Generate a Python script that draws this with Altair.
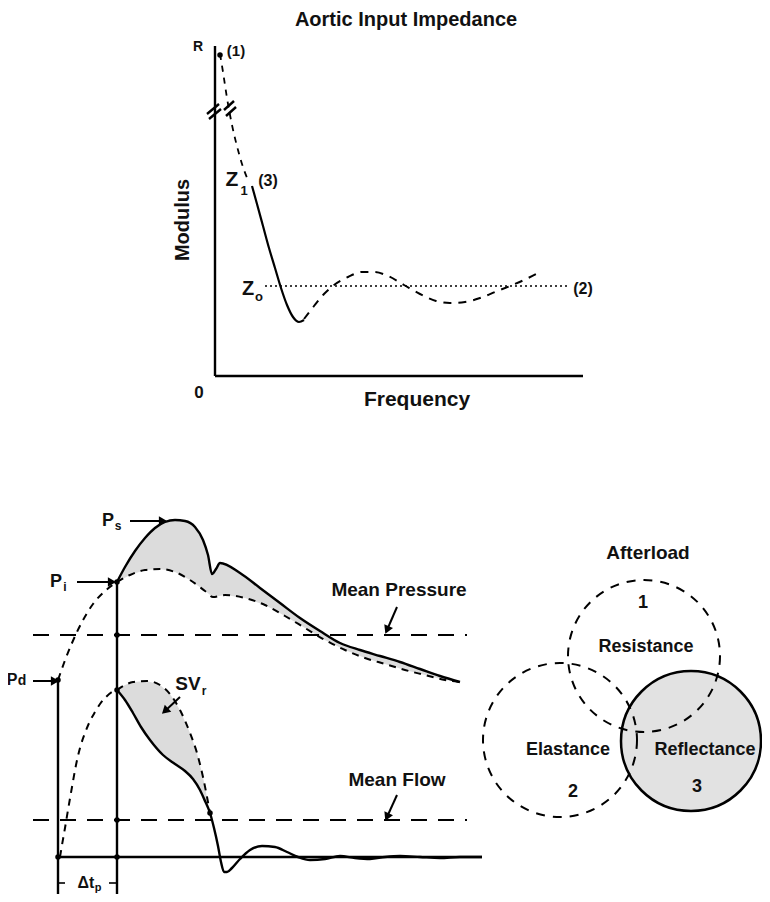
import math
import altair as alt
import pandas as pd

# ---------------- data (reference pixel space) ----------------
# Aortic input impedance
imp_dash1_x = [220, 223, 227, 232, 238, 244, 248]
imp_dash1_y = [54, 72, 98, 125, 150, 170, 180]
imp_solid_x = [252, 257, 263, 269, 275, 281, 287, 293, 299, 304]
imp_solid_y = [186, 204, 226, 248, 268, 288, 305, 317, 322, 320]
imp_dash2_x = [304, 314, 324, 334, 348, 362, 374, 388, 404, 420, 436, 450, 465, 480, 495, 510, 524, 538]
imp_dash2_y = [319, 306, 294, 285, 277, 272, 272, 276, 285, 294, 301, 303, 302, 298, 292, 286, 280, 273]
zo_x = [265, 567]
zo_y = [286, 286]

# Pressure waveforms
p_rise_x = [58, 64, 72, 82, 93, 105, 117]
p_rise_y = [680, 663, 643, 622, 604, 591, 582]
p_solid_x = [117, 125, 135, 145, 155, 165, 175, 185, 195, 203, 208, 212, 216, 220, 240, 260, 280, 300, 320, 340, 360, 380, 400, 420, 440, 460]
p_solid_y = [582, 567, 551, 538, 528, 522, 520, 521, 527, 540, 555, 574, 569, 563, 573, 588, 603, 618, 631, 643, 650, 656, 662, 669, 676, 682]
p_dash_x = [117, 130, 145, 160, 175, 190, 205, 213, 225, 245, 265, 285, 305, 325, 345, 365, 385, 405, 425, 445, 460]
p_dash_y = [582, 575, 570, 569, 572, 580, 591, 597, 595, 598, 605, 616, 628, 640, 650, 658, 664, 670, 675, 680, 682]

# Flow waveforms
f_rise_x = [60, 62, 65, 68, 72, 76, 80, 85, 90, 95, 100, 106, 112, 117]
f_rise_y = [857, 845, 828, 810, 787, 765, 748, 733, 721, 712, 704, 697, 692, 690]
f_solid_x = [117, 125, 133, 141, 150, 163, 175, 185, 193, 200, 205, 210, 214, 218, 221, 224, 227, 232, 240, 250, 262, 275, 287, 298, 310, 325, 340, 355, 370, 385, 400, 420, 440, 460, 482]
f_solid_y = [690, 700, 713, 727, 740, 755, 764, 771, 779, 790, 801, 813, 828, 846, 862, 872, 872, 868, 859, 850, 846, 847, 852, 857, 860, 859, 856, 858, 859, 857, 856, 857, 858, 857, 857]
svr_x = [117, 125, 133, 147, 160, 170, 180, 190, 197, 203, 210]
svr_y = [690, 685, 682, 681, 685, 694, 710, 733, 753, 777, 813]

# straight solid segments: (x1, y1, x2, y2)
seg_solid = [
    (215, 46, 215, 376), (215, 376, 583, 376),           # impedance axes
    (207, 114, 219, 104), (209, 119, 221, 109),           # axis break
    (224, 110, 234, 101), (226, 116, 236, 107),           # curve break
    (58, 857, 482, 857),                                  # flow zero line
    (58, 680, 58, 894), (117, 582, 117, 894),             # timing verticals
]
seg_thin = [(58, 883, 65, 883), (109, 883, 117, 883)]     # delta t bracket
seg_dashed = [(33, 635, 467, 635), (33, 820, 467, 820)]   # mean pressure / flow

# arrows: (x_start, y_start, x_end, y_end)
arrows = [
    (130, 521, 163, 521), (77, 582, 112, 582), (33, 681, 55, 681),
    (397, 607, 387, 630), (397, 795, 387, 817), (180, 697, 165, 711),
]

# junction dots
dot_x = [58, 117, 117, 117, 117, 117, 58, 210, 220]
dot_y = [680, 582, 690, 635, 820, 857, 857, 813, 55]

# Venn circles (centre x, centre y, radius)
circ_x = [644, 560, 691]
circ_y = [656, 740, 741]
circ_r = [76, 77, 70]

# labels
lab_text = ["Aortic Input Impedance", "R", "(1)", "Z", "1", "(3)", "Modulus", "Z", "o", "(2)", "0", "Frequency",
            "P", "s", "P", "i", "P", "d", "Mean Pressure", "SV", "r", "Mean Flow", "Δt", "p",
            "Afterload", "1", "Resistance", "Elastance", "2", "Reflectance", "3"]
lab_x = [406, 198, 236, 232, 244, 268, 183, 248, 259, 583, 199, 417,
         108, 118, 56, 65, 12, 22, 399, 188, 204, 397, 86, 98,
         648, 643, 646, 568, 573, 705, 697]
lab_y = [20, 47, 51, 180, 191, 181, 220, 289, 297, 289, 393, 400,
         521, 526, 582, 587, 680, 681, 590, 684, 691, 780, 883, 888,
         553, 603, 647, 750, 792, 750, 787]
lab_size = [20, 14, 15, 21, 13, 16, 20, 20, 13, 16, 17, 21,
            18, 12, 18, 12, 16, 14, 19, 19, 12, 19, 16, 11,
            19, 18, 18, 18, 18, 18, 18]
lab_angle = [0] * len(lab_text)
lab_angle[6] = 270

# ---------------- chart ----------------
W, H = 754, 886
xsc = alt.Scale(domain=[8, 8 + W], nice=False, zero=False)
ysc = alt.Scale(domain=[8, 8 + H], nice=False, zero=False, reverse=True)
X = lambda f="x": alt.X(f"{f}:Q", scale=xsc, axis=None)
Y = lambda f="y": alt.Y(f"{f}:Q", scale=ysc, axis=None)


def df(xs, ys):
    return pd.DataFrame({"x": xs, "y": ys, "o": list(range(len(xs)))})


def curve(xs, ys, dash=None, width=2.2, interp="monotone"):
    kw = dict(color="black", strokeWidth=width, interpolate=interp)
    if dash:
        kw["strokeDash"] = dash
    return alt.Chart(df(xs, ys)).mark_line(**kw).encode(x=X(), y=Y(), order="o:Q")


def polygon(xs, ys, color):
    return alt.Chart(df(xs, ys)).mark_line(
        fill=color, stroke="transparent", strokeWidth=0, interpolate="linear"
    ).encode(x=X(), y=Y(), order="o:Q")


def segs(lst, dash=None, width=2.2):
    d = pd.DataFrame(lst, columns=["x", "y", "x2", "y2"])
    kw = dict(color="black", strokeWidth=width)
    if dash:
        kw["strokeDash"] = dash
    return alt.Chart(d).mark_rule(**kw).encode(x=X(), y=Y(), x2="x2:Q", y2="y2:Q")


def circle(i, **kw):
    d = pd.DataFrame({"x": [circ_x[i]], "y": [circ_y[i]]})
    return alt.Chart(d).mark_point(shape="circle", size=(2 * circ_r[i]) ** 2, opacity=1, **kw).encode(x=X(), y=Y())


layers = []
# stippled areas
layers.append(polygon(p_solid_x + p_dash_x[::-1], p_solid_y + p_dash_y[::-1], "#dcdcdc"))
fs_n = f_solid_x.index(210) + 1
layers.append(polygon(f_solid_x[:fs_n] + svr_x[::-1], f_solid_y[:fs_n] + svr_y[::-1], "#dcdcdc"))

# circles
layers.append(circle(2, filled=True, color="#e2e2e2"))
layers.append(circle(0, filled=False, color="black", strokeWidth=2, strokeDash=[9, 8]))
layers.append(circle(1, filled=False, color="black", strokeWidth=2, strokeDash=[9, 8]))
layers.append(circle(2, filled=False, color="black", strokeWidth=2.5))

# impedance curves
layers.append(curve(imp_dash1_x, imp_dash1_y, dash=[6, 6], width=1.8))
layers.append(curve(imp_solid_x, imp_solid_y, width=2.2))
layers.append(curve(imp_dash2_x, imp_dash2_y, dash=[8, 7], width=2))
layers.append(curve(zo_x, zo_y, dash=[2, 3], width=1.6, interp="linear"))

# pressure and flow curves
layers.append(curve(p_rise_x, p_rise_y, dash=[7, 6], width=2))
layers.append(curve(p_solid_x, p_solid_y, width=2.4))
layers.append(curve(p_dash_x, p_dash_y, dash=[7, 6], width=2))
layers.append(curve(f_rise_x, f_rise_y, dash=[7, 6], width=2))
layers.append(curve(f_solid_x, f_solid_y, width=2.4))
layers.append(curve(svr_x, svr_y, dash=[7, 6], width=2))

# straight segments
layers.append(segs(seg_solid, width=2.4))
layers.append(segs(seg_thin, width=1.6))
layers.append(segs(seg_dashed, dash=[16, 11], width=2))

# arrows
adf = pd.DataFrame(arrows, columns=["x", "y", "x2", "y2"])
adf["ang"] = [math.degrees(math.atan2(ye - ys, xe - xs)) % 360 for xs, ys, xe, ye in arrows]
layers.append(alt.Chart(adf).mark_rule(color="black", strokeWidth=2).encode(x=X(), y=Y(), x2="x2:Q", y2="y2:Q"))
layers.append(alt.Chart(adf).mark_point(shape="triangle-right", filled=True, color="black", size=90, opacity=1)
              .encode(x=X("x2"), y=Y("y2"),
                      angle=alt.Angle("ang:Q", scale=alt.Scale(domain=[0, 360], range=[0, 360]))))

# dots
layers.append(alt.Chart(df(dot_x, dot_y)).mark_point(shape="circle", filled=True, color="black", size=30, opacity=1)
              .encode(x=X(), y=Y()))

# labels
ldf = pd.DataFrame({"t": lab_text, "x": lab_x, "y": lab_y, "fs": lab_size, "ang": lab_angle})
for ang in [0, 270]:
    sub = ldf[ldf["ang"] == ang]
    for fs in sorted(sub["fs"].unique()):
        s2 = sub[sub["fs"] == fs]
        layers.append(alt.Chart(s2).mark_text(font="Liberation Sans", fontWeight="bold", fontSize=int(fs),
                                              angle=ang, align="center", baseline="middle", color="#111")
                      .encode(x=X(), y=Y(), text="t:N"))

chart = alt.layer(*layers).properties(
    width=W, height=H, autosize=alt.AutoSizeParams(type="none"), padding=0,
).configure_view(stroke=None)

chart.save("out.html", embed_options={"renderer": "svg", "actions": False})
